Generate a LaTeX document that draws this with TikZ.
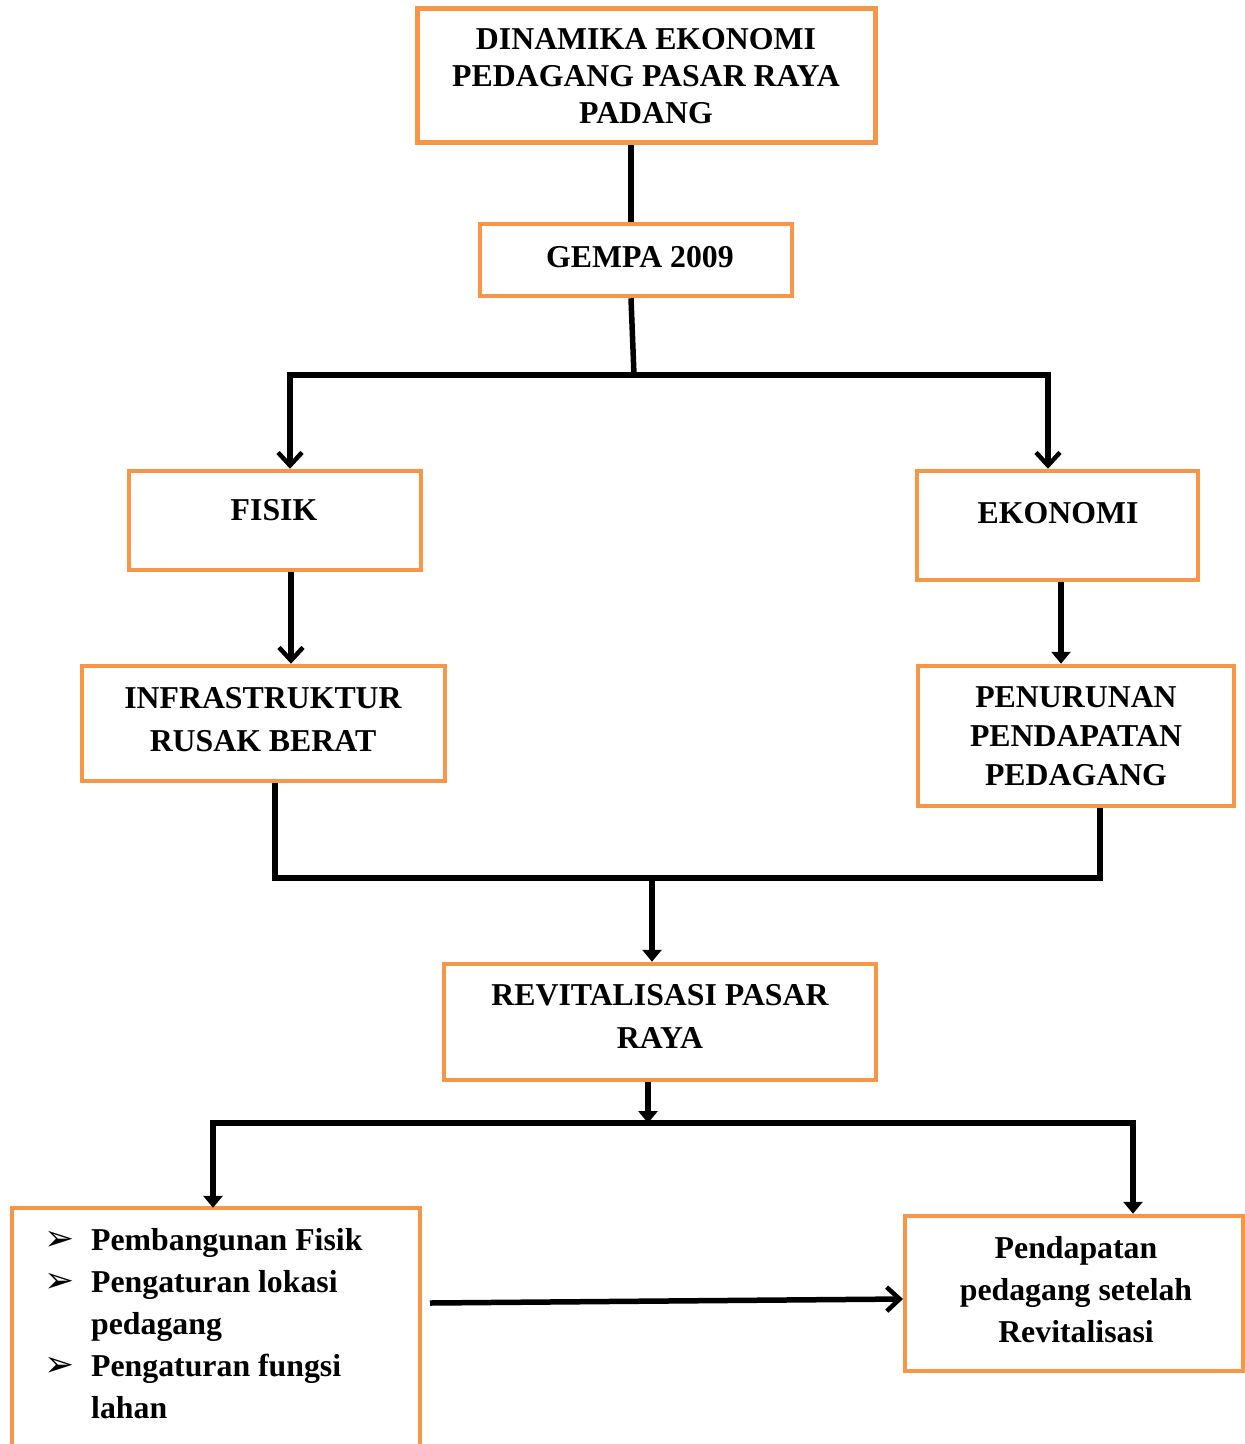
\documentclass[tikz,border=0pt]{standalone}
\usepackage{fontspec}
\setmainfont{Liberation Serif}
\newfontfamily\symfont{DejaVu Sans}
\usetikzlibrary{arrows.meta,fit}
\definecolor{boxorange}{HTML}{F79646}
\newcommand{\bulmark}{{\symfont\fontsize{36}{42}\selectfont ➢}}
\begin{document}
\begin{tikzpicture}[x=1pt,y=-1pt,
  box/.style={draw=boxorange,line width=4.5pt,inner sep=0pt,fill=none},
  txt/.style={inner sep=0pt,align=center,font=\bfseries\fontsize{31.8}{37}\selectfont},
  link/.style={line width=5.5pt,black},
  openarr/.style={link,-{Straight Barb[length=13pt,width=24pt,line width=4.5pt]}},
  filarr/.style={link,-{Triangle[length=12pt,width=19pt]}}]
\useasboundingbox (0,0) rectangle (1245,1444);
\clip (0,0) rectangle (1245,1444);
% boxes
\node[box,fit={(417.5,8.5) (875.5,142.5)}] (title) {};
\node[box,fit={(480,224) (792,296)}] (gempa) {};
\node[box,fit={(129,471) (421,570)}] (fisik) {};
\node[box,fit={(917,471) (1198,580)}] (ekonomi) {};
\node[box,fit={(82,666) (445,781)}] (infra) {};
\node[box,fit={(918,666) (1234,806)}] (penurunan) {};
\node[box,fit={(444,964) (876,1080)}] (revit) {};
\node[box,fit={(905,1216) (1243,1371)}] (pendapatan) {};
\node[inner sep=0pt,fit={(12,1208) (420,1460)}] (program) {};
\draw[draw=boxorange,line width=4.5pt] (program.south west) -- (program.north west) -- (program.north east) -- (program.south east);
% texts
\node[txt] (titletxt) at (646,76) {DINAMIKA EKONOMI\\PEDAGANG PASAR RAYA\\PADANG};
\node[txt] (gempatxt) at (640,257) {GEMPA 2009};
\node[txt] (fisiktxt) at (274,510) {FISIK};
\node[txt] (ekonomitxt) at (1058,513) {EKONOMI};
\node[txt,font=\bfseries\fontsize{31.8}{43}\selectfont] (infratxt) at (263,719.5) {INFRASTRUKTUR\\RUSAK BERAT};
\node[txt,font=\bfseries\fontsize{31.8}{39}\selectfont] (penurunantxt) at (1076,736) {PENURUNAN\\PENDAPATAN\\PEDAGANG};
\node[txt,font=\bfseries\fontsize{31.8}{43}\selectfont] (revittxt) at (660,1016.5) {REVITALISASI PASAR\\RAYA};
\node[txt,font=\bfseries\fontsize{31.8}{42}\selectfont] (pendapatantxt) at (1076,1290) {Pendapatan\\pedagang setelah\\Revitalisasi};
\node[inner sep=0pt,anchor=base west,font=\bfseries\fontsize{31.8}{42}\selectfont] (programtxt) at (44,1250) {%
  \renewcommand{\arraystretch}{1}%
  \begin{tabular}[t]{@{}p{47pt}@{}l@{}}
  \bulmark & Pembangunan Fisik\\
  \bulmark & Pengaturan lokasi\\
   & pedagang\\
  \bulmark & Pengaturan fungsi\\
   & lahan
  \end{tabular}};
% connectors
\coordinate (j1) at (634,375);
\coordinate (hl) at (290,375);
\coordinate (hr) at (1048,375);
\coordinate (g0) at (631,0);
\draw[link] (title.south -| g0) -- (gempa.north -| g0);
\draw[link] (gempa.south -| g0) -- (j1);
\draw[link,line cap=rect] (hl) -- (hr);
\draw[openarr] (hl) -- (hl |- fisik.north);
\draw[openarr] (hr) -- (hr |- ekonomi.north);
\coordinate (fx) at (291,0);
\draw[openarr] (fisik.south -| fx) -- (infra.north -| fx);
\coordinate (ex) at (1061,0);
\draw[filarr] (ekonomi.south -| ex) -- (penurunan.north -| ex);
\coordinate (ml) at (275,878);
\coordinate (mr) at (1100,878);
\coordinate (mm) at (652,878);
\draw[link] (infra.south -| ml) -- (ml) -- (mr) -- (penurunan.south -| mr);
\draw[filarr] (mm) -- (revit.north -| mm);
\coordinate (rx) at (648,0);
\coordinate (bm) at (648,1123);
\coordinate (bl) at (213,1123);
\coordinate (br) at (1133,1123);
\draw[filarr] (revit.south -| rx) -- (bm);
\draw[link,line cap=rect] (bl) -- (br);
\draw[filarr] (bl) -- (bl |- program.north);
\draw[filarr] (br) -- (br |- pendapatan.north);
\coordinate (s0) at (430,1303);
\coordinate (s1) at (903,1299);
\draw[openarr] (s0) -- (s1);
\end{tikzpicture}
\end{document}
